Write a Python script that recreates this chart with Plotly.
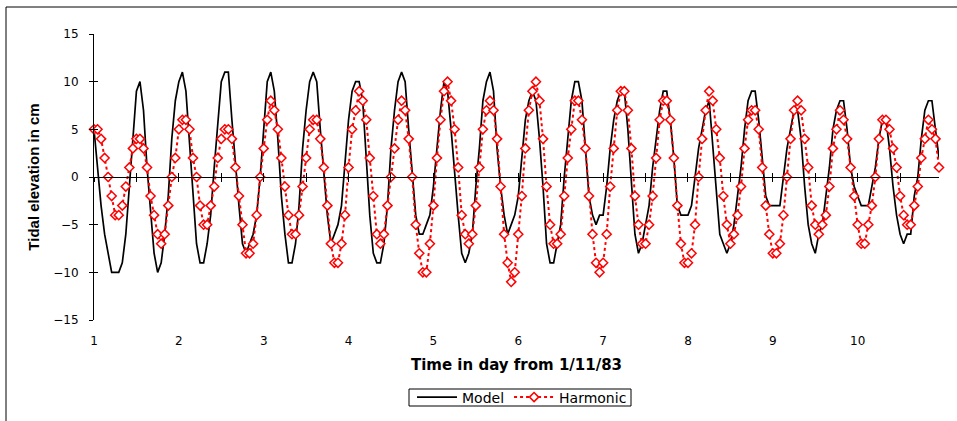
import plotly.graph_objects as go

# Hourly tidal elevation (cm), starting 1/11/83 00:00
model = [
    5, 1, -3, -6, -8, -10, -10, -10, -9, -6,
    -1, 4, 9, 10, 7, 1, -4, -8, -10, -9,
    -6, -2, 4, 8, 10, 11, 9, 4, -2, -7,
    -9, -9, -7, -4, 1, 6, 10, 11, 11, 6,
    1, -3, -7, -8, -7, -6, -4, 0, 5, 10,
    11, 9, 4, -2, -6, -9, -9, -7, -3, 3,
    7, 10, 11, 10, 5, 0, -4, -7, -6, -5,
    -3, 2, 6, 9, 10, 10, 8, 2, -4, -8,
    -9, -9, -7, -3, 3, 7, 10, 11, 10, 5,
    0, -4, -6, -6, -5, -4, -1, 3, 7, 10,
    9, 5, 0, -4, -8, -9, -8, -6, -1, 3,
    8, 10, 11, 9, 3, -1, -4, -6, -5, -4,
    -2, 2, 6, 8, 9, 8, 4, -1, -7, -9,
    -9, -7, -5, 0, 4, 8, 10, 10, 8, 3,
    -2, -4, -5, -4, -4, -1, 3, 6, 8, 9,
    9, 5, -1, -6, -8, -7, -5, -3, 1, 4,
    7, 9, 9, 6, 2, -3, -4, -4, -4, -3,
    0, 3, 5, 7, 8, 3, -2, -6, -7, -8,
    -7, -5, -2, 1, 5, 8, 9, 9, 6, 2,
    -2, -3, -3, -3, -3, 0, 3, 5, 7, 7,
    4, -1, -5, -7, -8, -6, -5, -2, 1, 5,
    7, 8, 8, 5, 1, -1, -2, -3, -3, -3,
    -1, 1, 4, 6, 6, 3, -1, -4, -6, -7,
    -6, -6, -2, 0, 4, 7, 8, 8, 5, 2,
]

harmonic = [
    5, 5, 4, 2, 0, -2, -4, -4, -3, -1,
    1, 3, 4, 4, 3, 1, -2, -4, -6, -7,
    -6, -3, 0, 2, 5, 6, 6, 5, 2, 0,
    -3, -5, -5, -3, -1, 2, 4, 5, 5, 4,
    1, -2, -5, -8, -8, -7, -4, 0, 3, 6,
    8, 7, 5, 2, -1, -4, -6, -6, -4, -1,
    2, 5, 6, 6, 4, 1, -3, -7, -9, -9,
    -7, -4, 1, 5, 7, 9, 8, 6, 2, -2,
    -6, -7, -6, -3, 0, 3, 6, 8, 7, 4,
    0, -5, -8, -10, -10, -7, -3, 2, 6, 9,
    10, 8, 5, 1, -4, -6, -7, -6, -3, 1,
    5, 7, 8, 7, 4, -1, -6, -9, -11, -10,
    -6, -2, 3, 7, 9, 10, 8, 4, -1, -5,
    -7, -7, -6, -2, 2, 5, 8, 8, 6, 3,
    -2, -6, -9, -10, -9, -6, -1, 3, 7, 9,
    9, 7, 3, -2, -5, -7, -7, -5, -2, 2,
    6, 8, 8, 6, 2, -3, -7, -9, -9, -8,
    -5, 0, 4, 7, 9, 8, 5, 2, -2, -5,
    -7, -6, -4, -1, 3, 6, 7, 7, 5, 1,
    -3, -6, -8, -8, -7, -4, 0, 4, 7, 8,
    7, 4, 1, -3, -5, -6, -5, -4, -1, 3,
    5, 7, 6, 4, 1, -2, -5, -7, -7, -5,
    -3, 0, 4, 6, 6, 5, 3, 1, -2, -4,
    -5, -5, -3, -1, 2, 4, 6, 5, 4, 1,
]

day_ticks = list(range(1, 11))
y_ticks = [-15, -10, -5, 0, 5, 10, 15]

hours = list(range(len(model)))
days = [1 + h / 24 for h in hours]

W, H = 957, 421
ML, MR, MT, MB = 94, 18, 34, 101
PW, PH = W - ML - MR, H - MT - MB
x_range = [1, days[-1]]
y_range = [-15, 15]


def px_x(p):
    return (p - ML) / PW


def px_y(p):
    return (H - MB - p) / PH


fig = go.Figure()
fig.add_trace(go.Scatter(
    x=days, y=model, name="Model", mode="lines",
    line=dict(color="black", width=1.7),
    cliponaxis=False,
))
fig.add_trace(go.Scatter(
    x=days, y=harmonic, name="Harmonic", mode="lines+markers",
    line=dict(color="#ff0000", width=2, dash="dot"),
    marker=dict(symbol="diamond", size=7, color="white",
                line=dict(color="#ff0000", width=1.5)),
    cliponaxis=False,
))

tick_font = dict(family="DejaVu Sans", size=12, color="black")

fig.update_layout(
    width=W, height=H, autosize=False,
    margin=dict(l=ML, r=MR, t=MT, b=MB, pad=0, autoexpand=False),
    paper_bgcolor="white", plot_bgcolor="white",
    showlegend=True,
    legend=dict(
        orientation="h", x=px_x(412), y=px_y(397.5),
        xanchor="left", yanchor="middle",
        bgcolor="rgba(0,0,0,0)", borderwidth=0,
        font=dict(family="DejaVu Sans", size=14, color="black"),
        itemwidth=40, tracegroupgap=0,
    ),
    # bottom axis: day labels and title
    xaxis=dict(
        range=x_range, tickvals=day_ticks, ticktext=[str(d) for d in day_ticks],
        showgrid=False, zeroline=False, showline=False, ticks="",
        tickfont=tick_font, ticklabelstandoff=12, automargin=False,
        title=dict(text="<b>Time in day from 1/11/83</b>",
                   font=dict(family="DejaVu Sans", size=15, color="black"),
                   standoff=12),
    ),
    # axis line through zero with crossing half-day ticks
    xaxis2=dict(
        range=x_range, overlaying="x", anchor="free", position=0.5,
        side="bottom", dtick=0.5, tick0=1, ticks="outside", ticklen=4,
        tickcolor="black", tickwidth=1, showline=True, linecolor="black",
        linewidth=1, showticklabels=False, showgrid=False, zeroline=False,
        automargin=False,
    ),
    xaxis3=dict(
        range=x_range, overlaying="x", anchor="free", position=0.5,
        side="bottom", dtick=0.5, tick0=1, ticks="inside", ticklen=4,
        tickcolor="black", tickwidth=1, showline=False,
        showticklabels=False, showgrid=False, zeroline=False,
        automargin=False,
    ),
    yaxis=dict(
        range=y_range, tickvals=y_ticks, showgrid=False, zeroline=False,
        showline=True, linecolor="black", linewidth=1,
        ticks="outside", ticklen=4, tickcolor="black",
        tickfont=tick_font, ticklabelstandoff=8, automargin=False,
        title=dict(text="<b>Tidal elevation in cm</b>",
                   font=dict(family="Liberation Sans", size=15, color="black"),
                   standoff=10),
    ),
    yaxis2=dict(
        range=y_range, overlaying="y", anchor="x", side="left",
        tickvals=y_ticks, ticks="inside", ticklen=4, tickcolor="black",
        showticklabels=False, showgrid=False, zeroline=False, showline=False,
        automargin=False,
    ),
)

# invisible traces so the overlay axes are drawn
for ax in ("x2", "x3"):
    fig.add_trace(go.Scatter(x=[x_range[0]], y=[0], xaxis=ax, yaxis="y",
                             mode="markers", marker=dict(opacity=0),
                             showlegend=False, hoverinfo="skip"))
fig.add_trace(go.Scatter(x=[x_range[0]], y=[0], xaxis="x", yaxis="y2",
                         mode="markers", marker=dict(opacity=0),
                         showlegend=False, hoverinfo="skip"))

# chart-area frame (bottom and right edges fall outside the page)
fig.add_shape(type="rect", xref="paper", yref="paper",
              x0=px_x(6), x1=px_x(970), y0=px_y(440), y1=px_y(7),
              line=dict(color="black", width=1), fillcolor="rgba(0,0,0,0)",
              layer="below")
# legend box
fig.add_shape(type="rect", xref="paper", yref="paper",
              x0=px_x(409), x1=px_x(631), y0=px_y(406), y1=px_y(389),
              line=dict(color="black", width=1), fillcolor="white",
              layer="below")

fig.write_html("out.html")
